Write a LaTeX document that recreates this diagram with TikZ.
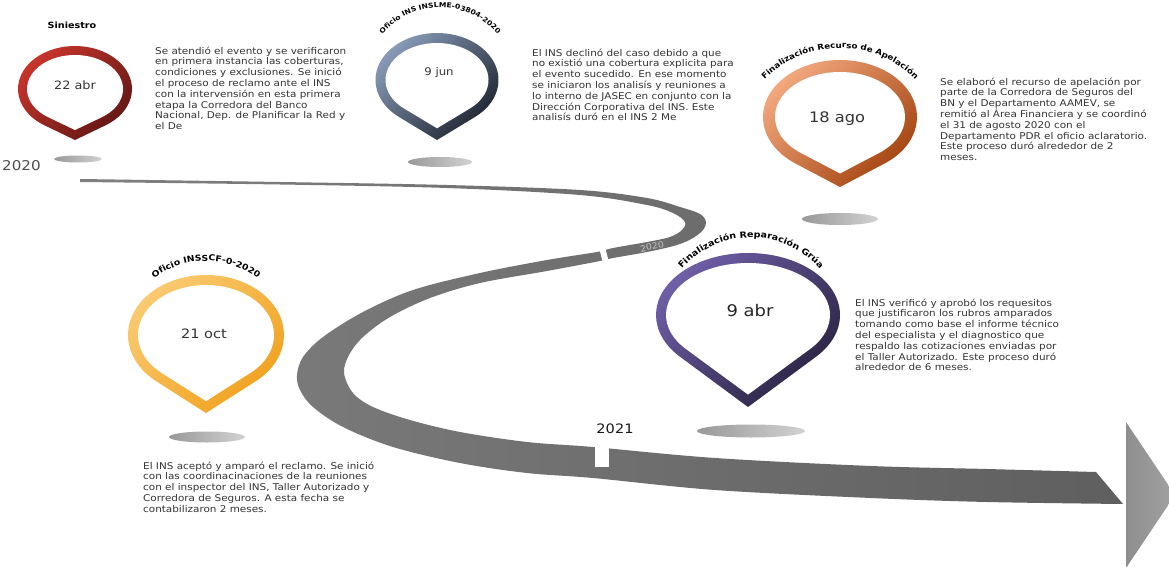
\documentclass[tikz,border=0pt]{standalone}
\usepackage{fontspec}
\setmainfont{DejaVu Sans}
\newfontfamily\bodyfont[FakeStretch=1.12]{DejaVu Sans}
\usetikzlibrary{decorations.text}
\definecolor{txt}{HTML}{333333}
\definecolor{redL}{HTML}{C9352C}
\definecolor{redD}{HTML}{5E1614}
\definecolor{slateL}{HTML}{8A9DBA}
\definecolor{slateD}{HTML}{1B212C}
\definecolor{oraL}{HTML}{F4AA80}
\definecolor{oraD}{HTML}{A0400C}
\definecolor{yelL}{HTML}{FACB72}
\definecolor{yelD}{HTML}{F0A01C}
\definecolor{purL}{HTML}{7060AA}
\definecolor{purD}{HTML}{28213E}
\definecolor{roadL}{HTML}{808080}
\definecolor{roadR}{HTML}{5F5F5F}
\definecolor{arrowL}{HTML}{8E8E8E}
\definecolor{arrowR}{HTML}{A2A2A2}
\definecolor{shadL}{HTML}{999999}
\definecolor{shadR}{HTML}{D2D2D2}
\definecolor{roadlbl}{HTML}{C4C4C4}
\definecolor{yeartxt}{HTML}{4D4D4D}
\newcommand\ttlA{\bodyfont\bfseries\fontsize{8.6}{10}\selectfont}
\newcommand\ttlB{\bodyfont\bfseries\fontsize{6.8}{8}\selectfont}
\newcommand\ttlC{\bodyfont\bfseries\fontsize{7.8}{9}\selectfont}
\newcommand\ttlD{\bodyfont\bfseries\fontsize{8.3}{10}\selectfont}
\newcommand\ttlE{\bodyfont\bfseries\fontsize{8.5}{10}\selectfont}
% pin: cx, cy (down), rx, ry, tip distance, ring width, light, dark
\newcommand\mypin[8]{%
  \pgfmathsetmacro\pA{asin(#4/#5)}%
  \pgfmathsetmacro\pAl{atan((#3*cos(\pA))/(#5-#4*#4/#5))}%
  \pgfmathsetmacro\pti{#5-#6/sin(\pAl)}%
  \pgfmathsetmacro\prx{#3-#6}%
  \pgfmathsetmacro\pry{#4-#6}%
  \pgfmathsetmacro\pB{asin(\pry/\pti)}%
  \pgfmathsetmacro\pox{#1+#3*cos(\pA)}%
  \pgfmathsetmacro\poy{-#2-#4*sin(\pA)}%
  \pgfmathsetmacro\pix{#1+\prx*cos(\pB)}%
  \pgfmathsetmacro\piy{-#2-\pry*sin(\pB)}%
  \shade[top color=#7, bottom color=#8, shading angle=45]
    (#1,-#2-#5) -- (\pox,\poy)
    arc[start angle=-\pA, end angle=180+\pA, x radius=#3, y radius=#4] -- cycle;
  \fill[white] (#1,-#2-\pti) -- (\pix,\piy)
    arc[start angle=-\pB, end angle=180+\pB, x radius=\prx, y radius=\pry] -- cycle;
}
\begin{document}
\begin{tikzpicture}[x=1pt,y=1pt,
  every node/.style={inner sep=0pt},
  bodytext/.style={anchor=north west, align=left, text=txt,
    font=\bodyfont\fontsize{9.3}{10.8}\selectfont},
  datelbl/.style={anchor=base, text=txt},
  shadow/.style={left color=shadL, right color=shadR}]
\useasboundingbox (0,0) rectangle (1169,-567);
\fill[white] (0,0) rectangle (1169,-567);
\clip (0,0) rectangle (1169,-567);

% road
\shade[left color=roadL, right color=roadR]
  plot[smooth, tension=0.55] coordinates {
   (80,-179) (280,-182) (447,-185) (580,-190) (647,-198) (680,-207) (700,-214)
   (706,-222) (703,-230) (693,-238) (677,-245) (647,-252) (613,-258) (600,-261)
   (547,-271) (480,-283) (430,-298) (390,-317) (363,-337) (349,-355) (344,-373)
   (353,-393) (373,-407) (410,-420) (460,-432) (527,-442) (593,-447) (715,-458)
   (871,-466) (987,-469) (1096,-472)}
  -- plot[smooth, tension=0.55] coordinates {
   (1123,-504) (987,-502) (871,-498) (715,-490) (593,-478) (527,-473) (460,-463)
   (393,-447) (343,-427) (313,-407) (300,-390) (297,-375) (303,-357) (323,-337)
   (363,-312) (413,-290) (480,-273) (547,-260) (597,-252) (613,-248) (647,-242)
   (670,-237) (682,-230) (685,-222) (673,-213) (647,-205) (580,-195) (447,-188)
   (280,-184.5) (80,-182)}
  -- cycle;
% gaps in the road
\draw[white, line width=6pt] (601,-243) -- (607,-267);
\fill[white] (595,-440) rectangle (609,-467);
% arrow head
\shade[left color=arrowL, right color=arrowR] (1126,-422) -- (1175,-495) -- (1126,-568) -- cycle;

% year labels
\node[anchor=base west, text=yeartxt, font=\bodyfont\fontsize{13.5}{14}\selectfont] (y2020a) at (2,-170) {2020};
\node[rotate=12, text=roadlbl, font=\bodyfont\fontsize{8.5}{10}\selectfont] (y2020b) at (652,-246.5) {2020};
\node[anchor=base, text=black!90, font=\bodyfont\fontsize{13}{14}\selectfont] (y2021) at (615,-433) {2021};

% shadows
\shade[shadow] (78,-159) ellipse [x radius=24, y radius=3.5];
\shade[shadow] (440,-162) ellipse [x radius=32, y radius=5];
\shade[shadow] (840,-219) ellipse [x radius=38, y radius=6];
\shade[shadow] (207,-437) ellipse [x radius=38, y radius=5.5];
\shade[shadow] (751,-431) ellipse [x radius=54, y radius=6.5];

% pins
\mypin{75}{89}{57}{43}{51}{9}{redL}{redD}
\mypin{437}{80}{61.5}{47}{60}{10}{slateL}{slateD}
\mypin{840}{117}{77}{57}{70}{12}{oraL}{oraD}
\mypin{206}{335}{78}{60}{78}{10}{yelL}{yelD}
\mypin{748}{315}{92}{62}{92}{10}{purL}{purD}

% dates
\node[datelbl, font=\bodyfont\fontsize{11.5}{12}\selectfont] (d1) at (75,-90) {22 abr};
\node[datelbl, font=\bodyfont\fontsize{10.5}{12}\selectfont] (d2) at (439,-76) {9 jun};
\node[datelbl, font=\bodyfont\fontsize{14.5}{16}\selectfont] (d3) at (837,-122) {18 ago};
\node[datelbl, font=\bodyfont\fontsize{13}{14}\selectfont] (d4) at (204,-338) {21 oct};
\node[datelbl, text=black!85, font=\bodyfont\fontsize{16}{18}\selectfont] (d5) at (750,-316) {9 abr};

% titles
\node[anchor=base, font=\ttlA] (h1) at (72,-28.5) {Siniestro};
\path[decorate, decoration={text along path, text align=center,
   text={|\ttlB|Oficio INS INSLME-03804-2020}}]
  ([shift={(440,-83)}]175:75.5) arc[start angle=175, end angle=5, radius=75.5];
\path[decorate, decoration={text along path, text align=center,
   text={|\ttlC|Finalización Recurso de Apelación}}]
  ([shift={(840,-154)}]175:106) arc[start angle=175, end angle=5, radius=106];
\path[decorate, decoration={text along path, text align=center,
   text={|\ttlD|Oficio INSSCF-0-2020}}]
  ([shift={(206,-347)}]175:86) arc[start angle=175, end angle=5, radius=86];
\path[decorate, decoration={text along path, text align=center,
   text={|\ttlE|Finalización Reparación Grúa}}]
  ([shift={(751,-329)}]175:91.5) arc[start angle=175, end angle=5, radius=91.5];

% descriptions
\node[bodytext] (t1) at (155,-46.5) {Se atendió el evento y se verificaron\\en primera instancia las coberturas,\\condiciones y exclusiones. Se inició\\el proceso de reclamo ante el INS\\con la intervensión en esta primera\\etapa la Corredora del Banco\\Nacional, Dep. de Planificar la Red y\\el De};
\node[bodytext] (t2) at (532,-48.5) {El INS declinó del caso debido a que\\no existió una cobertura explicita para\\el evento sucedido. En ese momento\\se iniciaron los analisís y reuniones a\\lo interno de JASEC en conjunto con la\\Dirección Corporativa del INS. Este\\analisís duró en el INS 2 Me};
\node[bodytext] (t3) at (940,-77.5) {Se elaboró el recurso de apelación por\\parte de la Corredora de Seguros del\\BN y el Departamento AAMEV, se\\remitió al Área Financiera y se coordinó\\el 31 de agosto 2020 con el\\Departamento PDR el oficio aclaratorio.\\Este proceso duró alrededor de 2\\meses.};
\node[bodytext] (t4) at (143,-461.5) {El INS aceptó y amparó el reclamo. Se inició\\con las coordinacinaciones de la reuniones\\con el inspector del INS, Taller Autorizado y\\Corredora de Seguros. A esta fecha se\\contabilizaron 2 meses.};
\node[bodytext] (t5) at (855,-298.5) {El INS verificó y aprobó los requesitos\\que justificaron los rubros amparados\\tomando como base el informe técnico\\del especialista y el diagnostico que\\respaldo las cotizaciones enviadas por\\el Taller Autorizado. Este proceso duró\\alrededor de 6 meses.};
\end{tikzpicture}
\end{document}
